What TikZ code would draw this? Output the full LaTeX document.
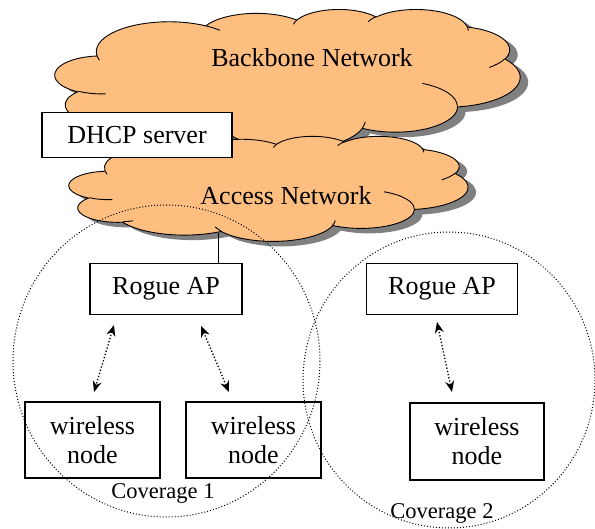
\documentclass[tikz,border=0pt]{standalone}
\usepackage{fontspec}
\setmainfont{Liberation Serif}
\usetikzlibrary{arrows.meta}
\definecolor{cloudfill}{RGB}{253,190,128}
\definecolor{cloudshade}{RGB}{128,128,128}
% elliptical arc given by radii, start angle and sweep (angles measured on the ellipse as seen)
\newcommand\ca[4]{arc[start angle={atan2((#1)*sin(#3),(#2)*cos(#3))},
  delta angle={mod(atan2((#1)*sin((#3)+(#4)),(#2)*cos((#3)+(#4)))-atan2((#1)*sin(#3),(#2)*cos(#3))+720,360)},
  x radius=#1, y radius=#2]}
% cloud outline in a 432 x 432 box
\newcommand\cloudoutline{(39,143.7) \ca{67.53}{91.90}{-190.487}{123.781}
  \ca{53.33}{72.67}{-144.102}{89.945} \ca{43.65}{59.45}{-145.808}{99.723}
  \ca{48.57}{65.95}{-130.986}{117.242} \ca{53.33}{72.73}{-78.709}{109.027}
  \ca{67.75}{92.20}{-46.267}{130.269} \ca{57.85}{78.67}{0.625}{114.033}
  \ca{67.52}{92.15}{22.452}{115.173} \ca{77.20}{105.43}{66.243}{75.711}
  \ca{43.60}{59.18}{-274.942}{146.736} \ca{43.45}{59.45}{-246.829}{152.519} -- cycle}
% short creases inside the cloud
\newcommand\cloudcreases{(46.93,261.77) \ca{43.45}{59.45}{86.742}{26.430}
  (69.28,348.99) \ca{43.60}{59.18}{73.610}{11.447}
  (164.78,390.90) \ca{67.52}{92.15}{137.624}{14.081}
  (288.27,347.51) \ca{67.52}{92.15}{6.453}{15.998}
  (341.29,229.54) \ca{57.85}{78.67}{-70.292}{70.917}
  (417.98,153.54) \ca{53.33}{72.73}{30.318}{27.752}
  (383.24,54.26) \ca{48.57}{65.95}{-13.744}{14.859}
  (290.78,39.52) \ca{48.57}{65.95}{-149.181}{18.195}
  (221.41,47.20) \ca{43.65}{59.45}{-163.494}{17.686}
  (140.00,51.92) \ca{67.53}{91.90}{-66.707}{12.319}
  (41.27,157.89) \ca{67.53}{91.90}{157.654}{11.858}}
\tikzset{
  cloudline/.style={draw=black, line width=0.9pt, line join=round},
  box/.style={draw=black, line width=1.5pt, fill=white, inner sep=0pt,
    font=\fontsize{26}{29}\selectfont, align=center},
  coverage/.style={draw=black, dotted, line width=1pt},
  label/.style={font=\fontsize{26}{30}\selectfont},
  covlabel/.style={font=\fontsize{22.5}{26}\selectfont},
  link/.style={dotted, line width=1.3pt, {Stealth[length=11pt,width=9pt]}-{Stealth[length=11pt,width=9pt]}}
}
\begin{document}
\begin{tikzpicture}[x=1pt,y=-1pt]
\useasboundingbox (0,0) rectangle (595,529);
% backbone cloud: shadow, body, creases
\begin{scope}[shift={(63pt,-14pt)}, x=1.0764pt, y=-0.3241pt]
  \fill[cloudshade] \cloudoutline;
\end{scope}
\begin{scope}[shift={(55pt,-9pt)}, x=1.0764pt, y=-0.3241pt]
  \fill[cloudfill] \cloudoutline;
  \draw[cloudline] \cloudoutline;
  \draw[cloudline] \cloudcreases;
\end{scope}
\node[label] (bbt) at (312,58) {Backbone Network};
% access cloud
\begin{scope}[shift={(77pt,-141pt)}, x=0.92361pt, y=-0.2431pt]
  \fill[cloudshade] \cloudoutline;
\end{scope}
\begin{scope}[shift={(69pt,-136pt)}, x=0.92361pt, y=-0.2431pt]
  \fill[cloudfill] \cloudoutline;
  \draw[cloudline] \cloudoutline;
  \draw[cloudline] \cloudcreases;
\end{scope}
\node[label] (acct) at (286,196) {Access Network};
% DHCP server
\node[box, minimum width=190pt, minimum height=45pt] (dhcp) at (137,135) {DHCP server};
% access points
\node[box, minimum width=152pt, minimum height=51pt] (ap1) at (166,289) {Rogue AP};
\node[box, minimum width=151pt, minimum height=51pt] (ap2) at (442,289) {Rogue AP};
% wireless nodes
\node[box, minimum width=135pt, minimum height=76pt] (wn1) at (92.5,440) {wireless\\node};
\node[box, minimum width=135pt, minimum height=76pt] (wn2) at (253.5,440) {wireless\\node};
\node[box, minimum width=134pt, minimum height=77pt] (wn3) at (477,441.5) {wireless\\node};
% coverage areas
\draw[coverage] (166.5,361) ellipse [x radius=153.5, y radius=156];
\draw[coverage] (449,380) ellipse [x radius=146, y radius=148];
\node[covlabel] (cov1) at (163,493) {Coverage 1};
\node[covlabel] (cov2) at (442,513) {Coverage 2};
% wired uplink of the first AP
\coordinate (up) at (218,233);
\draw[line width=1pt] (up) -- (up |- ap1.north);
% radio links
\coordinate (l1a) at (114,325); \coordinate (l1b) at (94,392);
\coordinate (l2a) at (201,326); \coordinate (l2b) at (229,392);
\coordinate (l3a) at (437,322); \coordinate (l3b) at (452,392);
\draw[link] (l1a) -- (l1b);
\draw[link] (l2a) -- (l2b);
\draw[link] (l3a) -- (l3b);
\end{tikzpicture}
\end{document}
